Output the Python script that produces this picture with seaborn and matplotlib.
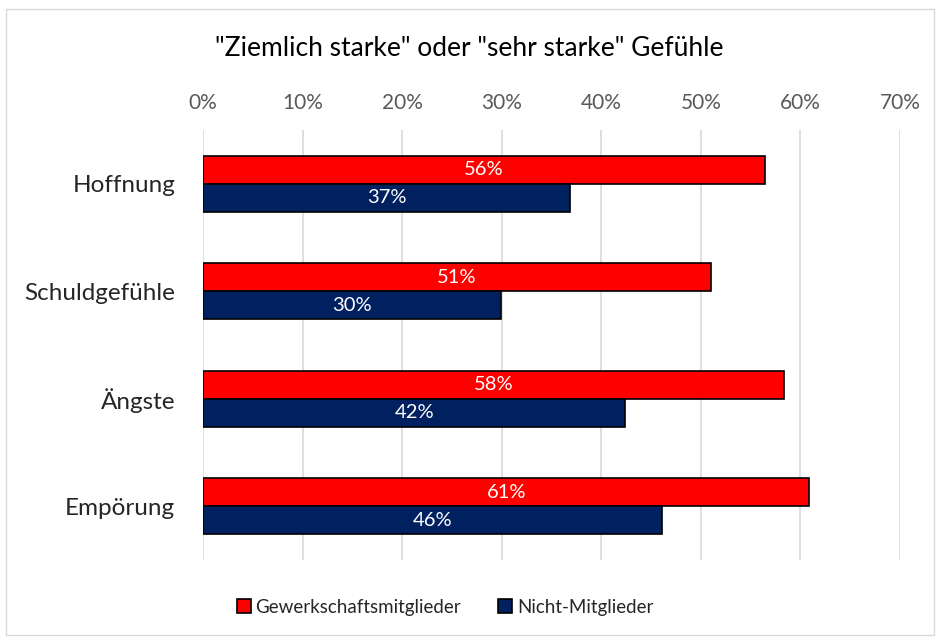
import matplotlib
matplotlib.use("Agg")
import matplotlib.pyplot as plt
import seaborn as sns
import pandas as pd
from matplotlib.patches import Rectangle

categories = ["Hoffnung", "Schuldgefühle", "Ängste", "Empörung"]
series_names = ["Gewerkschaftsmitglieder", "Nicht-Mitglieder"]
members = [56.4, 51.0, 58.3, 60.9]
non_members = [36.9, 29.9, 42.4, 46.1]
member_labels = ["56%", "51%", "58%", "61%"]
non_member_labels = ["37%", "30%", "42%", "46%"]
tick_values = [0, 10, 20, 30, 40, 50, 60, 70]
tick_labels = ["0%", "10%", "20%", "30%", "40%", "50%", "60%", "70%"]
title = '"Ziemlich starke" oder "sehr starke" Gefühle'

sns.set_theme(style="white")
plt.rcParams['font.family'] = ['Lato', 'DejaVu Sans']

df = pd.DataFrame({
    "Kategorie": categories * 2,
    "Wert": members + non_members,
    "Gruppe": [series_names[0]] * 4 + [series_names[1]] * 4,
})

fig = plt.figure(figsize=(9.39, 6.4), dpi=100)
ax = fig.add_axes([203/939, 0.125, 697/939, 0.672])

palette = {series_names[0]: "#FF0000", series_names[1]: "#002060"}
sns.barplot(data=df, y="Kategorie", x="Wert", hue="Gruppe", order=categories,
            hue_order=series_names, palette=palette, orient="h", width=0.52,
            edgecolor="black", linewidth=1.2, ax=ax, legend=True, saturation=1)

labels_all = [member_labels, non_member_labels]
for cont, labs in zip(ax.containers, labels_all):
    ax.bar_label(cont, labels=labs, label_type="center", color="white", fontsize=14.5)

ax.set_xlim(0, 70)
ax.set_xticks(tick_values)
ax.set_xticklabels(tick_labels)
ax.xaxis.tick_top()
ax.tick_params(axis="x", colors="#595959", labelsize=15, length=0, pad=12)
ax.tick_params(axis="y", colors="#262626", labelsize=17.5, length=0, pad=20)
ax.grid(axis="x", color="#D9D9D9", linewidth=1.2)
ax.set_axisbelow(True)
for s in ax.spines.values():
    s.set_visible(False)
ax.set_xlabel("")
ax.set_ylabel("")

fig.text(0.5, 1 - 48/640, title, ha="center", va="center", fontsize=19, color="#000000")

handles, labs = ax.get_legend_handles_labels()
ax.legend_.remove()
fig.legend(handles, labs, loc="center", bbox_to_anchor=(445/939, 1 - 607/640), ncol=2,
           frameon=False, fontsize=13.5, handlelength=0.75, handleheight=0.75,
           columnspacing=2.0, handletextpad=0.25)

fig.patches.append(Rectangle((6/939, 5/640), 928/939, 626/640, transform=fig.transFigure,
                             fill=False, edgecolor="#D9D9D9", linewidth=1))

fig.savefig("out.png", dpi=100)
